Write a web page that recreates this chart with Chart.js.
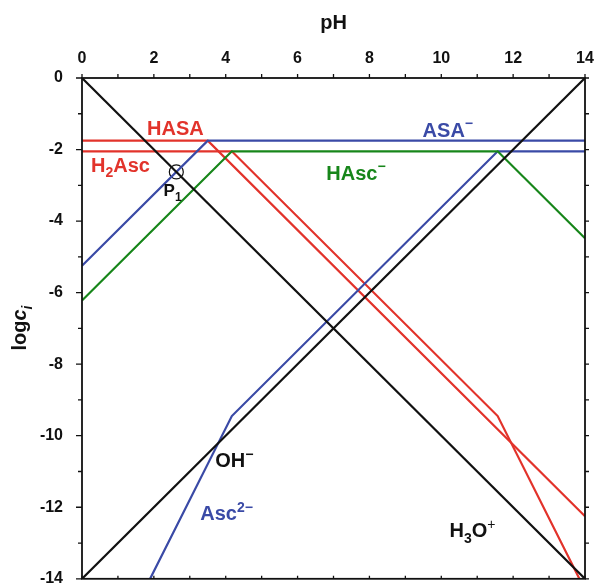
<!DOCTYPE html>
<html>
<head>
<meta charset="utf-8">
<script src="https://cdn.jsdelivr.net/npm/chart.js@4"></script>
<style>
  html, body { margin: 0; padding: 0; background: #fff; }
  #wrap { width: 596px; height: 587px; }
</style>
</head>
<body>
<div id="wrap"><canvas id="chart" width="596" height="587"></canvas></div>
<script>
// breakpoints of each log c line (pH, log c)
const H3O_x = [0, 14]
const H3O_y = [0, -14]
const OH_x = [0, 14]
const OH_y = [-14, 0]
const HASA_x = [0, 3.5, 14]
const HASA_y = [-1.75, -1.75, -12.25]
const ASA_x = [0, 3.5, 14]
const ASA_y = [-5.25, -1.75, -1.75]
const H2Asc_x = [0, 4.17, 11.57, 14]
const H2Asc_y = [-2.05, -2.05, -9.45, -14.31]
const HAsc_x = [0, 4.17, 11.57, 14]
const HAsc_y = [-6.22, -2.05, -2.05, -4.48]
const Asc_x = [1.895, 4.17, 11.57, 14]
const Asc_y = [-14, -9.45, -2.05, -2.05]
const P1_x = [2.625]
const P1_y = [-2.625]

const xTicks = [0, 2, 4, 6, 8, 10, 12, 14]
const yTicks = [0, -2, -4, -6, -8, -10, -12, -14]

const RED = '#e2332b'
const BLUE = '#3a4aa6'
const GREEN = '#17861a'
const BLACK = '#111111'
const FONT = '"Liberation Sans", Arial, sans-serif'

const pts = (xs, ys) => xs.map((x, i) => ({ x: x, y: ys[i] }))
const line = (xs, ys, color) => ({
    data: pts(xs, ys),
    showLine: true,
    borderColor: color,
    borderWidth: 2.2,
    pointRadius: 0,
    fill: false
})

// text labels placed in data coordinates
const labels = [
    { x: 1.81, y: -1.59, color: RED, runs: [{ t: 'HASA' }] },
    { x: 0.25, y: -2.62, color: RED, runs: [{ t: 'H' }, { t: '2', sub: true }, { t: 'Asc' }] },
    { x: 2.27, y: -3.3, color: BLACK, size: 17, runs: [{ t: 'P' }, { t: '1', sub: true }] },
    { x: 9.48, y: -1.64, color: BLUE, runs: [{ t: 'ASA' }, { t: '\u2212', sup: true }] },
    { x: 6.8, y: -2.84, color: GREEN, runs: [{ t: 'HAsc' }, { t: '\u2212', sup: true }] },
    { x: 3.71, y: -10.88, color: BLACK, runs: [{ t: 'OH' }, { t: '\u2212', sup: true }] },
    { x: 3.29, y: -12.36, color: BLUE, runs: [{ t: 'Asc' }, { t: '2\u2212', sup: true }] },
    { x: 10.23, y: -12.83, color: BLACK, runs: [{ t: 'H' }, { t: '3', sub: true }, { t: 'O' }, { t: '+', sup: true, thin: true }] }
]

function runFont(r, size) {
    const s = (r.sub || r.sup) ? Math.round(size * 0.7) : size
    return (r.italic ? 'italic ' : '') + (r.thin ? 'normal ' : 'bold ') + s + 'px ' + FONT
}

function drawRuns(ctx, runs, x, y, size) {
    let cx = x
    runs.forEach(r => {
        ctx.font = runFont(r, size)
        let dy = 0
        if (r.sub) dy = size * 0.28
        if (r.sup) dy = -size * 0.42
        ctx.fillText(r.t, cx, y + dy)
        cx += ctx.measureText(r.t).width
    })
    return cx - x
}

function runsWidth(ctx, runs, size) {
    let w = 0
    runs.forEach(r => { ctx.font = runFont(r, size); w += ctx.measureText(r.t).width })
    return w
}

const decorations = {
    id: 'decorations',
    afterDraw(chart) {
        const ctx = chart.ctx
        const a = chart.chartArea
        const xs = chart.scales.x
        const ys = chart.scales.y
        ctx.save()
        // frame
        ctx.strokeStyle = BLACK
        ctx.lineWidth = 1.8
        ctx.strokeRect(a.left, a.top, a.right - a.left, a.bottom - a.top)
        // ticks
        ctx.lineWidth = 1.3
        ctx.beginPath()
        for (let v = 0; v <= 14; v++) {
            const px = xs.getPixelForValue(v)
            ctx.moveTo(px, a.top); ctx.lineTo(px, a.top - 4)
            ctx.moveTo(px, a.bottom); ctx.lineTo(px, a.bottom - 3)
        }
        for (let v = 0; v >= -14; v--) {
            const py = ys.getPixelForValue(v)
            const len = v % 2 === 0 ? 6 : 4
            ctx.moveTo(a.left, py); ctx.lineTo(a.left - len, py)
            ctx.moveTo(a.right, py); ctx.lineTo(a.right + 4, py)
        }
        ctx.stroke()

        // axis titles
        ctx.fillStyle = BLACK
        ctx.textBaseline = 'alphabetic'
        ctx.textAlign = 'left'
        ctx.font = 'bold 20px ' + FONT
        const pw = ctx.measureText('pH').width
        ctx.fillText('pH', (a.left + a.right) / 2 - pw / 2, 29)

        const yt = [{ t: 'log' }, { t: 'c', italic: true }, { t: 'i', sub: true, italic: true }]
        const tw = runsWidth(ctx, yt, 20)
        ctx.save()
        ctx.translate(26, 328)
        ctx.rotate(-Math.PI / 2)
        drawRuns(ctx, yt, -tw / 2, 0, 20)
        ctx.restore()

        // curve labels
        labels.forEach(l => {
            ctx.fillStyle = l.color
            drawRuns(ctx, l.runs, xs.getPixelForValue(l.x), ys.getPixelForValue(l.y), l.size || 20)
        })
        ctx.restore()
    }
}

const fixBox = (w, h) => scale => {
    if (w !== null) scale.width = w
    if (h !== null) scale.height = h
    scale.paddingTop = 0
    scale.paddingBottom = 0
    scale.paddingLeft = 0
    scale.paddingRight = 0
}

const config = {
    type: 'scatter',
    data: {
        datasets: [
            line(H3O_x, H3O_y, BLACK),
            line(OH_x, OH_y, BLACK),
            line(HAsc_x, HAsc_y, GREEN),
            line(ASA_x, ASA_y, BLUE),
            line(Asc_x, Asc_y, BLUE),
            line(HASA_x, HASA_y, RED),
            line(H2Asc_x, H2Asc_y, RED),
            {
                data: pts(P1_x, P1_y),
                showLine: false,
                pointRadius: 7,
                pointHoverRadius: 7,
                pointStyle: 'circle',
                pointBackgroundColor: 'rgba(0,0,0,0)',
                pointBorderColor: BLACK,
                pointBorderWidth: 1.2
            }
        ]
    },
    options: {
        responsive: false,
        animation: false,
        events: [],
        layout: { padding: { top: 0, right: 11, bottom: 6, left: 0 } },
        plugins: { legend: { display: false }, tooltip: { enabled: false } },
        scales: {
            x: {
                type: 'linear',
                position: 'top',
                min: 0,
                max: 14,
                afterFit: fixBox(null, 78),
                afterBuildTicks: s => { s.ticks = xTicks.map(v => ({ value: v })) },
                grid: { display: false },
                border: { display: false },
                ticks: {
                    autoSkip: false,
                    maxRotation: 0,
                    padding: 2,
                    color: BLACK,
                    font: { family: FONT, size: 16, weight: 'bold' }
                }
            },
            y: {
                type: 'linear',
                position: 'left',
                min: -14,
                max: 0,
                afterFit: fixBox(82, null),
                afterBuildTicks: s => { s.ticks = yTicks.map(v => ({ value: v })) },
                grid: { display: false },
                border: { display: false },
                ticks: {
                    autoSkip: false,
                    padding: 11,
                    color: BLACK,
                    font: { family: FONT, size: 16, weight: 'bold' }
                }
            }
        }
    },
    plugins: [decorations]
}

const myChart = new Chart(document.getElementById('chart'), config)
</script>
</body>
</html>
